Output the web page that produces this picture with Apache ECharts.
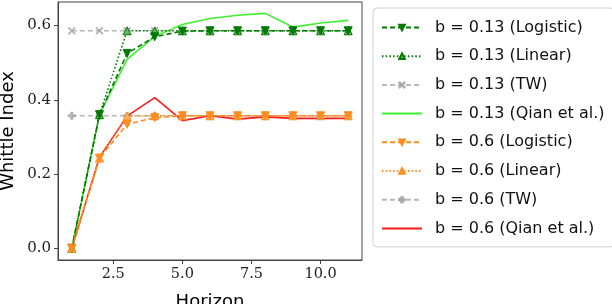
<!DOCTYPE html>
<html><head><meta charset="utf-8">
<script src="https://cdn.jsdelivr.net/npm/echarts@6/dist/echarts.min.js"></script>
<style>html,body{margin:0;padding:0;background:#fff}#c{width:612px;height:304px}</style>
</head><body><div id="c"></div>
<script>
const horizons = [1,2,3,4,5,6,7,8,9,10,11];
const logistic013 = [0,0.36,0.525,0.57,0.585,0.586,0.586,0.586,0.586,0.586,0.586];
const linear013   = [0,0.36,0.586,0.586,0.586,0.586,0.586,0.586,0.586,0.586,0.586];
const tw013       = [0.586,0.586,0.586,0.586,0.586,0.586,0.586,0.586,0.586,0.586,0.586];
const qian013     = [0,0.36,0.509,0.571,0.603,0.619,0.628,0.633,0.596,0.607,0.614];
const logistic06  = [0,0.243,0.334,0.352,0.357,0.357,0.357,0.357,0.357,0.357,0.357];
const linear06    = [0,0.243,0.356,0.357,0.357,0.357,0.357,0.357,0.357,0.357,0.357];
const tw06        = [0.357,0.357,0.357,0.357,0.357,0.357,0.357,0.357,0.357,0.357,0.357];
const qian06      = [0,0.245,0.356,0.406,0.344,0.357,0.348,0.354,0.350,0.350,0.350];
const xTicks = [2.5,5,7.5,10];
const yTicks = [0,0.2,0.4,0.6];
const names = ['b = 0.13 (Logistic)','b = 0.13 (Linear)','b = 0.13 (TW)','b = 0.13 (Qian et al.)',
  'b = 0.6 (Logistic)','b = 0.6 (Linear)','b = 0.6 (TW)','b = 0.6 (Qian et al.)'];

const triDown = 'path://M0,0 L10,0 L5,9 Z';
const triUp = 'path://M5,0 L10,9 L0,9 Z';
const xMark = 'path://M0,1 L1,0 L5,4 L9,0 L10,1 L6,5 L10,9 L9,10 L5,6 L1,10 L0,9 L4,5 Z';
const plusMark = 'path://M3.5,0 L6.5,0 L6.5,3.5 L10,3.5 L10,6.5 L6.5,6.5 L6.5,10 L3.5,10 L3.5,6.5 L0,6.5 L0,3.5 L3.5,3.5 Z';

function pts(arr){ return horizons.map((h,i)=>[h,arr[i]]); }
function ser(name, arr, color, type, symbol, size, fill, z){
  return {name, type:'line', data:pts(arr), z:z,
    symbol: symbol || 'none', symbolSize: size || 0, showSymbol: !!symbol,
    lineStyle:{color, width:1.6, type:type},
    itemStyle:{color: fill || color, borderColor: color, borderWidth:1},
    emphasis:{disabled:true}, animation:false};
}
const green='#007a00', lime='#40f030', gray='rgba(160,160,160,0.75)', orange='#ff8c1f', red='#ff1a1a';
const series = [
  ser(names[0], logistic013, green, [5,3], triDown, 8, green, 5),
  ser(names[1], linear013, green, [1.5,2.2], triUp, 8, '#5fb85f', 4),
  ser(names[2], tw013, gray, [5,3], xMark, 7, gray, 2),
  ser(names[3], qian013, lime, 'solid', null, 0, null, 3),
  ser(names[4], logistic06, orange, [5,3], triDown, 8, orange, 5),
  ser(names[5], linear06, orange, [1.5,2.2], triUp, 8, '#ffb060', 4),
  ser(names[6], tw06, gray, [5,3], plusMark, 7, gray, 2),
  ser(names[7], qian06, red, 'solid', null, 0, null, 3)
];
const legendData = names.map((n,i)=> (i===3||i===7)
  ? {name:n, itemStyle:{opacity:0}} : {name:n});

const chart = echarts.init(document.getElementById('c'), null, {renderer:'canvas'});
chart.setOption({
  animation:false,
  grid:{left:58, right:250, top:2, bottom:44, containLabel:false, outerBoundsMode:'none',
    show:true, borderColor:'#444', borderWidth:1, backgroundColor:'transparent'},
  xAxis:{type:'value', min:0.5, max:11.5, name:'Horizon', nameLocation:'middle', nameGap:33,
    nameTextStyle:{fontFamily:'DejaVu Sans', fontSize:18, color:'#000'},
    axisLine:{show:true, onZero:false, lineStyle:{color:'#444'}},
    axisTick:{show:true, customValues:xTicks, length:4, inside:false, lineStyle:{color:'#444'}},
    axisLabel:{customValues:xTicks, formatter:v=>v.toFixed(1), fontFamily:'DejaVu Serif', fontSize:14.5, color:'#222', margin:7},
    splitLine:{show:false}},
  yAxis:{type:'value', min:-0.0316, max:0.6636, name:'Whittle Index', nameLocation:'middle', nameGap:41,
    nameTextStyle:{fontFamily:'DejaVu Sans', fontSize:18, color:'#000'},
    axisLine:{show:true, onZero:false, lineStyle:{color:'#444'}},
    axisTick:{show:true, customValues:yTicks, length:4, lineStyle:{color:'#444'}},
    axisLabel:{customValues:yTicks, formatter:v=>v.toFixed(1), fontFamily:'DejaVu Serif', fontSize:15, color:'#222', margin:7},
    splitLine:{show:false}},
  legend:{orient:'vertical', left:373, top:8, itemGap:11.7, itemWidth:40, itemHeight:7,
    padding:[11,9,10,8], borderColor:'#d0d0d0', borderWidth:1, borderRadius:4,
    textStyle:{fontFamily:'DejaVu Sans', fontSize:16, color:'#111', padding:[0,0,0,8], lineHeight:17},
    data:legendData},
  series
});
</script></body></html>
